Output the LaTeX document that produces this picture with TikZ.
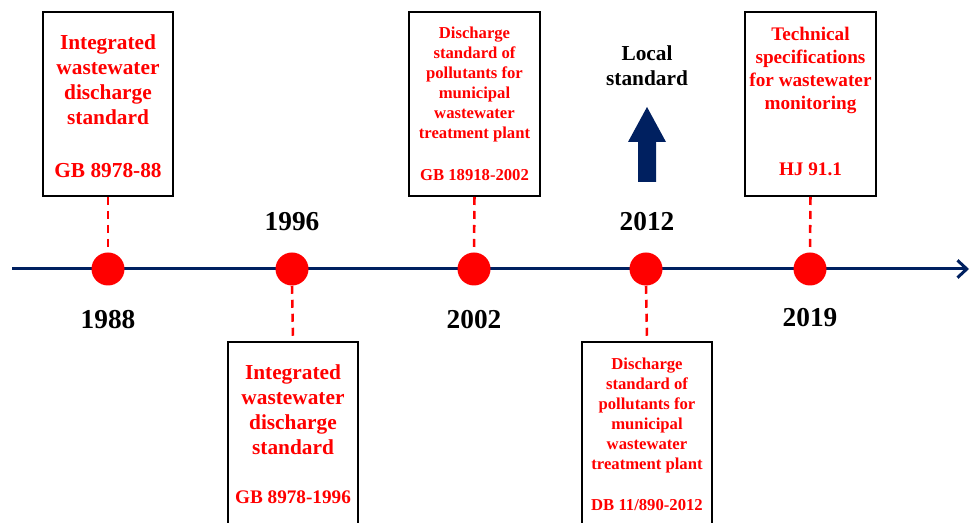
\documentclass[tikz,border=0pt]{standalone}
\usepackage{fontspec}
\setmainfont{Liberation Serif}
\usetikzlibrary{arrows.meta}
\definecolor{navy}{RGB}{0,32,96}
\definecolor{stdred}{RGB}{255,0,0}
\tikzset{
  stdbox/.style={draw=black, line width=1.5pt, fill=white, inner sep=0pt},
  bigtxt/.style={text=stdred, align=center, inner sep=0pt, font=\fontsize{16}{18.75}\selectfont\bfseries},
  smalltxt/.style={text=stdred, align=center, inner sep=0pt, font=\fontsize{12.5}{15}\selectfont\bfseries},
  midtxt/.style={text=stdred, align=center, inner sep=0pt, font=\fontsize{14.4}{17.25}\selectfont\bfseries},
  yeartxt/.style={text=black, inner sep=0pt, font=\fontsize{20.5}{24}\selectfont\bfseries},
  dot/.style={circle, fill=stdred, minimum size=24.75pt, inner sep=0pt},
  link/.style={draw=stdred, line width=1.9pt, dash pattern=on 6pt off 4.5pt},
  axis/.style={draw=navy, line width=2.25pt, -{Straight Barb[length=7pt,width=13pt,line width=2.25pt]}},
}
\begin{document}
\begin{tikzpicture}[x=0.75pt, y=-0.75pt]
\clip (0,0) rectangle (976,523);
\fill[white] (0,0) rectangle (976,523);
% axis
\coordinate (a0) at (12,269);
\coordinate (a1) at (969,269);
\draw[axis] (a0) -- (a1);
% boxes
\node[stdbox, minimum width=97.5pt, minimum height=138pt] (b1) at (108,104) {};
\node[stdbox, minimum width=97.5pt, minimum height=141pt] (b2) at (293,436) {};
\node[stdbox, minimum width=98.25pt, minimum height=138pt] (b3) at (474.5,104) {};
\node[stdbox, minimum width=97.5pt, minimum height=141pt] (b4) at (647,436) {};
\node[stdbox, minimum width=98.25pt, minimum height=138pt] (b5) at (810.5,104) {};
% dots
\node[dot] (d1) at (108,269) {};
\node[dot] (d2) at (292,269) {};
\node[dot] (d3) at (474,269) {};
\node[dot] (d4) at (646,269) {};
\node[dot] (d5) at (810,269) {};
% dashed links
\draw[link] (b1.south) -- (d1.north);
\draw[link] (d2.south) -- (b2.north);
\draw[link] (b3.south) -- (d3.north);
\draw[link] (d4.south) -- (b4.north);
\draw[link] (b5.south) -- (d5.north);
% box texts
\node[bigtxt] (t1) at (108,80) {Integrated\\wastewater\\discharge\\standard};
\node[bigtxt] (c1) at (108,171) {GB 8978-88};
\node[bigtxt] (t2) at (293,410) {Integrated\\wastewater\\discharge\\standard};
\node[bigtxt, font=\fontsize{14.4}{17}\selectfont\bfseries] (c2) at (293,497) {GB 8978-1996};
\node[smalltxt] (t3) at (474.5,84) {Discharge\\standard of\\pollutants for\\municipal\\wastewater\\treatment plant};
\node[smalltxt] (c3) at (474.5,175) {GB 18918-2002};
\node[smalltxt] (t4) at (647,415) {Discharge\\standard of\\pollutants for\\municipal\\wastewater\\treatment plant};
\node[smalltxt] (c4) at (647,505) {DB 11/890-2012};
\node[midtxt] (t5) at (810.5,70) {Technical\\specifications\\for wastewater\\monitoring};
\node[midtxt] (c5) at (810.5,169) {HJ 91.1};
% years
\node[yeartxt] (y1) at (108,320) {1988};
\node[yeartxt] (y2) at (292,222) {1996};
\node[yeartxt] (y3) at (474,320) {2002};
\node[yeartxt] (y4) at (647,222) {2012};
\node[yeartxt] (y5) at (810,318) {2019};
% local standard
\node[text=black, align=center, inner sep=0pt, font=\fontsize{16}{18.75}\selectfont\bfseries] (ls) at (647,66) {Local\\standard};
\fill[navy] (638,182) -- (656,182) -- (656,142) -- (666,142) -- (647,107) -- (628,142) -- (638,142) -- cycle;
\end{tikzpicture}
\end{document}
